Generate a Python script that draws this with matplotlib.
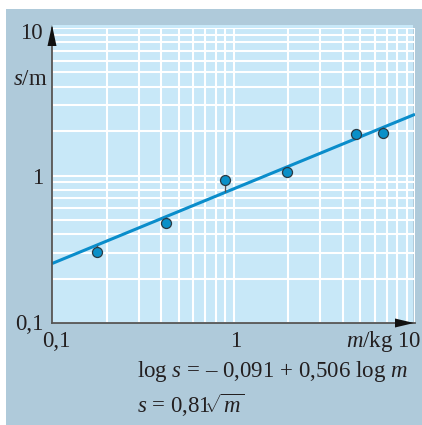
import numpy as np
import matplotlib
matplotlib.use("Agg")
import matplotlib.pyplot as plt
from matplotlib.patches import Rectangle, Polygon
from matplotlib.transforms import offset_copy, blended_transform_factory

# ---- data ----
mass_kg = [0.177, 0.427, 0.90, 1.96, 4.72, 6.66]
dist_m = [0.304, 0.479, 0.925, 1.05, 1.90, 1.93]
fit_intercept = -0.091
fit_slope = 0.506
x_limits = [0.1, 10]
y_limits = [0.1, 10]
x_tick_labels = ["0,1", "1"]
y_tick_labels = ["0,1", "1", "10"]

W, H = 422, 425
plt.rcParams['font.family'] = ['Liberation Serif', 'DejaVu Serif']
plt.rcParams['mathtext.fontset'] = 'custom'
plt.rcParams['mathtext.rm'] = 'Liberation Serif'
plt.rcParams['mathtext.it'] = 'Liberation Serif:italic'

panel_col = '#AFCADA'
plot_col = '#C8E8F8'
line_col = '#0A8DCB'
text_col = '#231F20'
FS = 16.5
FS_EQ = 16.5

fig = plt.figure(figsize=(W/100, H/100), dpi=100)
fig.patch.set_facecolor('white')
bg = fig.add_axes([0, 0, 1, 1], zorder=-5)
bg.set_axis_off()
bg.set_xlim(0, 1)
bg.set_ylim(0, 1)
bg.add_patch(Rectangle((6/W, 0), 1, 1 - 9/H, facecolor=panel_col, edgecolor='none'))

ax_l, ax_r, ax_b, ax_t = 52, 415, 323, 28
ax = fig.add_axes([ax_l/W, 1 - ax_b/H, (ax_r-ax_l)/W, (ax_b-ax_t)/H], zorder=1)
ax.set_xscale('log')
ax.set_yscale('log')
ax.set_xlim(*x_limits)
ax.set_ylim(*y_limits)
ax.set_facecolor('none')
ax.add_patch(Rectangle((0, 0), 1 - 2/363, 1 + 3/295, transform=ax.transAxes,
                       facecolor=plot_col, edgecolor='none', zorder=0, clip_on=False))

ax.grid(True, which='both', color='white', linewidth=1.5, zorder=1)
ax.set_axisbelow(False)
ax.tick_params(which='both', length=0, labelbottom=False, labelleft=False)
for sp in ['top', 'right']:
    ax.spines[sp].set_visible(False)
for sp in ['left', 'bottom']:
    ax.spines[sp].set_color('#555555')
    ax.spines[sp].set_linewidth(1.3)
    ax.spines[sp].set_zorder(3)

# arrows
ax.add_patch(Polygon([(0, 1 + 3/295), (-4.5/363, 1 - 18/295), (4.5/363, 1 - 18/295)],
                     closed=True, transform=ax.transAxes, clip_on=False,
                     facecolor='#111111', edgecolor='none', zorder=5))
ax.add_patch(Polygon([(1 - 1/363, 0), (1 - 20/363, 4.5/295), (1 - 20/363, -4.5/295)],
                     closed=True, transform=ax.transAxes, clip_on=False,
                     facecolor='#111111', edgecolor='none', zorder=5))

# fit line
xf = np.array(x_limits)
yf = 10 ** (fit_intercept + fit_slope * np.log10(xf))
ax.plot(xf, yf, color=line_col, lw=2.2, zorder=3, solid_capstyle='butt')

# residual stems and points
m = np.array(mass_kg)
s = np.array(dist_m)
sfit = 10 ** (fit_intercept + fit_slope * np.log10(m))
ax.vlines(m, s, sfit, color='#555555', lw=1.0, zorder=3)
ax.plot(m, s, 'o', ms=7.2, mfc='#0A90C8', mec='#2a3a44', mew=0.9, zorder=4, clip_on=False)

# y tick labels
yt = blended_transform_factory(ax.transAxes, ax.transData)
for val, lab, dy in zip([0.1, 1, 10], y_tick_labels, [7, 9, 11]):
    ax.text(0, val, lab, transform=offset_copy(yt, fig=fig, x=-9, y=-dy, units='dots'),
            ha='right', va='baseline', fontsize=FS, color=text_col)
# x tick labels
xt = blended_transform_factory(ax.transData, ax.transAxes)
for val, lab, dx in zip([0.1, 1], x_tick_labels, [4, 2]):
    ax.text(val, 0, lab, transform=offset_copy(xt, fig=fig, x=dx, y=-24, units='dots'),
            ha='center', va='baseline', fontsize=FS, color=text_col)
ax.text(1, 0, r'$m$/kg 10', transform=offset_copy(ax.transAxes, fig=fig, x=6, y=-24, units='dots'),
        ha='right', va='baseline', fontsize=FS, color=text_col)
ax.text(0, 1, r'$s$/m', transform=offset_copy(ax.transAxes, fig=fig, x=-4, y=-57, units='dots'),
        ha='right', va='baseline', fontsize=FS, color=text_col)

# equations
fig.text(137/W, 1 - 377/H, r'log $s$ = – 0,091 + 0,506 log $m$', ha='left', va='baseline',
         fontsize=FS_EQ, color=text_col)
fig.text(137/W, 1 - 413/H, r'$s$ = 0,81$\!\!\sqrt{m}$', ha='left', va='baseline',
         fontsize=FS_EQ, color=text_col)

fig.savefig('out.png', dpi=100, facecolor=fig.get_facecolor())
